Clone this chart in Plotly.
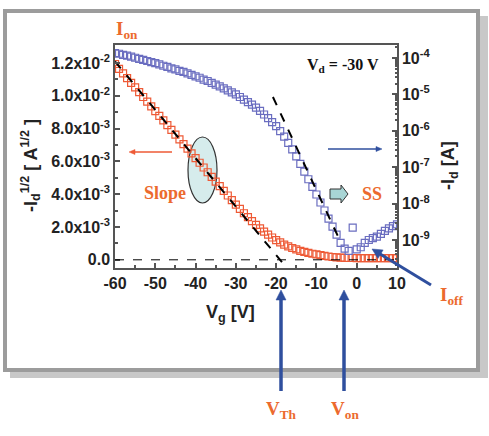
import math
import plotly.graph_objects as go

# ---------------- data ----------------
vg = [-60, -59, -58, -57, -56, -55, -54, -53, -52, -51, -50, -49, -48, -47, -46, -45,
      -44, -43, -42, -41, -40, -39, -38, -37, -36, -35, -34, -33, -32, -31, -30, -29,
      -28, -27, -26, -25, -24, -23, -22, -21, -20, -19, -18, -17, -16, -15, -14, -13,
      -12, -11, -10, -9, -8, -7, -6, -5, -4, -3, -2, -1, 0, 1, 2, 3, 4, 5, 6, 7, 8, 9, 10]

# sqrt(-Id) in units of 1e-3 A^1/2
sqrt_id_milli = [11.94, 11.65, 11.37, 11.08, 10.79, 10.51, 10.22, 9.93, 9.65, 9.36,
                 9.07, 8.78, 8.50, 8.21, 7.92, 7.64, 7.35, 7.06, 6.78, 6.49,
                 6.20, 5.92, 5.63, 5.34, 5.06, 4.77, 4.49, 4.20, 3.92, 3.64,
                 3.37, 3.10, 2.84, 2.60, 2.36, 2.13, 1.92, 1.72, 1.53, 1.36,
                 1.20, 1.06, 0.93, 0.82, 0.72, 0.63, 0.55, 0.48, 0.42, 0.37,
                 0.33, 0.29, 0.24, 0.20, 0.17, 0.15, 0.13, 0.12, 0.11, 0.11,
                 0.10, 0.10, 0.10, 0.10, 0.10, 0.10, 0.10, 0.10, 0.10, 0.10, 0.10]

# log10(-Id / A)
id_log10 = [-3.86, -3.88, -3.91, -3.93, -3.96, -3.99, -4.02, -4.05, -4.08, -4.11,
            -4.14, -4.17, -4.21, -4.24, -4.28, -4.31, -4.35, -4.38, -4.42, -4.46,
            -4.50, -4.54, -4.59, -4.63, -4.68, -4.73, -4.78, -4.83, -4.89, -4.94,
            -5.00, -5.07, -5.14, -5.21, -5.28, -5.36, -5.45, -5.55, -5.65, -5.76,
            -5.87, -6.01, -6.16, -6.33, -6.51, -6.70, -6.91, -7.12, -7.33, -7.54,
            -7.75, -7.97, -8.19, -8.41, -8.63, -8.85, -9.08, -9.24, -9.30, -8.66,
            -9.26, -9.20, -9.08, -9.00, -8.95, -8.91, -8.83, -8.75, -8.68, -8.62, -8.57]

# linear fit (threshold) and subthreshold-swing tangent
fit_vg = [-60, -18]
fit_sqrt_milli = [12.10, -0.30]
ss_vg = [-20.8, -3.8]
ss_log10 = [-5.07, -9.10]

x_ticks = [-60, -50, -40, -30, -20, -10, 0, 10]
x_ticktext = ["-60", "-50", "-40", "-30", "-20", "-10", "0", "10"]
y_ticks_milli = [0, 2, 4, 6, 8, 10, 12]
y_ticktext = ["0.0", "2.0x10<sup>-3</sup>", "4.0x10<sup>-3</sup>", "6.0x10<sup>-3</sup>",
              "8.0x10<sup>-3</sup>", "1.0x10<sup>-2</sup>", "1.2x10<sup>-2</sup>"]
y2_exps = [-9, -8, -7, -6, -5, -4]

# ---------------- styling ----------------
RED = "#EE5A36"
BLUE = "#6A6DC0"
ORANGE = "#EC6A2E"
ARROWBLUE = "#2F4F9E"
AXC = "#555555"
SANS = "Liberation Sans"
SERIF = "Liberation Serif"

L, R, T, B = 115, 397, 45, 268
W, H = 489, 436


def px(x):
    return (x - L) / (R - L)


def py(y):
    return (B - y) / (B - T)


fig = go.Figure()

fig.add_trace(go.Scatter(
    x=vg, y=[v * 1e-3 for v in sqrt_id_milli], mode="markers",
    marker=dict(symbol="square-open", size=7, color=RED, line=dict(width=1.2)),
    yaxis="y", hoverinfo="skip"))
fig.add_trace(go.Scatter(
    x=fit_vg, y=[v * 1e-3 for v in fit_sqrt_milli], mode="lines",
    line=dict(color="black", width=2, dash="dash"), yaxis="y", hoverinfo="skip"))
fig.add_trace(go.Scatter(
    x=vg, y=[10 ** v for v in id_log10], mode="markers",
    marker=dict(symbol="square-open", size=7, color=BLUE, line=dict(width=1.2)),
    yaxis="y2", hoverinfo="skip"))
fig.add_trace(go.Scatter(
    x=ss_vg, y=[10 ** v for v in ss_log10], mode="lines",
    line=dict(color="black", width=2, dash="dash"), yaxis="y2", hoverinfo="skip"))

tickfont = dict(family=SANS, size=16, color="#222222", weight="bold")

minor_y2 = [k * 10 ** e for e in range(-10, -3) for k in range(2, 10)]

fig.update_layout(
    width=W, height=H,
    margin=dict(l=L, r=W - R, t=T, b=H - B),
    paper_bgcolor="white", plot_bgcolor="rgba(0,0,0,0)",
    showlegend=False,
    xaxis=dict(range=[-60, 10], tickvals=x_ticks, ticktext=x_ticktext, ticks="inside",
               ticklen=5, tickwidth=1.5,
               tickcolor=AXC, showline=True, linecolor=AXC, linewidth=1.5, mirror=True,
               showgrid=False, zeroline=False, tickfont=tickfont,
               minor=dict(tickvals=[-55, -45, -35, -25, -15, -5, 5], ticks="inside",
                          ticklen=3, tickcolor=AXC, showgrid=False)),
    yaxis=dict(range=[-0.0005, 0.0131], tickvals=[v * 1e-3 for v in y_ticks_milli],
               ticktext=y_ticktext, ticks="inside", ticklen=5, tickwidth=1.5, tickcolor=AXC,
               showline=True, linecolor=AXC, linewidth=1.5, showgrid=False, zeroline=False,
               tickfont=tickfont,
               minor=dict(tickvals=[v * 1e-3 for v in [1, 3, 5, 7, 9, 11]], ticks="inside",
                          ticklen=3, tickcolor=AXC, showgrid=False)),
    yaxis2=dict(type="log", range=[-9.77, -3.64], overlaying="y", side="right",
                tickvals=[10 ** e for e in y2_exps],
                ticktext=["10<sup>%d</sup>" % e for e in y2_exps],
                ticks="inside", ticklen=5, tickwidth=1.5, tickcolor=AXC,
                showline=True, linecolor=AXC, linewidth=1.5, showgrid=False, zeroline=False,
                tickfont=tickfont,
                minor=dict(tickvals=minor_y2, ticks="inside", ticklen=2.5, tickcolor=AXC,
                           showgrid=False)),
)

shapes = []
# outer frame with shadow
shapes.append(dict(type="rect", xref="paper", yref="paper", layer="below",
                   x0=px(10), x1=px(488), y0=py(16), y1=py(378),
                   fillcolor="#C8C8C8", line=dict(width=0)))
shapes.append(dict(type="rect", xref="paper", yref="paper", layer="below",
                   x0=px(5), x1=px(478), y0=py(11), y1=py(370),
                   fillcolor="white", line=dict(color="#9C9C9C", width=4)))
# ellipse highlighting slope
shapes.append(dict(type="circle", xref="paper", yref="paper", layer="below",
                   x0=px(188), x1=px(217), y0=py(137), y1=py(203),
                   fillcolor="#D6ECEC", line=dict(color="#333333", width=1.2)))
# zero line
shapes.append(dict(type="line", xref="paper", yref="y", x0=0, x1=1, y0=0, y1=0,
                   line=dict(color="black", width=1, dash="dash")))
# block arrow (SS)
bx0, bx1, bx2 = 330, 341, 348
by0, by1, bym, by2, by3 = 185, 189, 194, 199, 203
path = "M {} {} L {} {} L {} {} L {} {} L {} {} L {} {} L {} {} Z".format(
    px(bx0), py(by1), px(bx1), py(by1), px(bx1), py(by0), px(bx2), py(bym),
    px(bx1), py(by3), px(bx1), py(by2), px(bx0), py(by2))
shapes.append(dict(type="path", xref="paper", yref="paper", path=path,
                   fillcolor="#A8D5D5", line=dict(color="#333333", width=1)))


def arrow(x_head, y_head, x_tail, y_tail, color, width, head_len, head_half):
    dx, dy = x_head - x_tail, y_head - y_tail
    d = math.hypot(dx, dy)
    ux, uy = dx / d, dy / d
    bx, by = x_head - ux * head_len, y_head - uy * head_len
    shapes.append(dict(type="line", xref="paper", yref="paper",
                       x0=px(x_tail), y0=py(y_tail), x1=px(bx + ux * 1), y1=py(by + uy * 1),
                       line=dict(color=color, width=width)))
    p1 = (bx - uy * head_half, by + ux * head_half)
    p2 = (bx + uy * head_half, by - ux * head_half)
    pth = "M {} {} L {} {} L {} {} Z".format(px(x_head), py(y_head), px(p1[0]), py(p1[1]),
                                             px(p2[0]), py(p2[1]))
    shapes.append(dict(type="path", xref="paper", yref="paper", path=pth,
                       fillcolor=color, line=dict(color=color, width=0.5)))


arrow(129, 152, 172, 152, RED, 1.5, 6, 2.5)
arrow(382, 149, 328, 149, ARROWBLUE, 1.5, 6, 2.5)
arrow(372, 249, 431, 285, ARROWBLUE, 3, 10, 5)
arrow(281, 290, 281, 391, ARROWBLUE, 3.5, 10, 5)
arrow(344, 290, 344, 391, ARROWBLUE, 3.5, 10, 5)

fig.update_layout(shapes=shapes)

ann = []


def text(x, y, t, size, color, family=SERIF, weight="bold", angle=0, xanchor="center"):
    ann.append(dict(xref="paper", yref="paper", x=px(x), y=py(y), text=t, showarrow=False,
                    xanchor=xanchor, yanchor="middle", textangle=angle,
                    font=dict(family=family, size=size, color=color, weight=weight)))


text(127, 30, "I<sub>on</sub>", 19, ORANGE)
text(343, 65, "V<sub>d</sub> = -30 V", 16, "#111111")
text(165, 193, "Slope", 18, ORANGE)
text(372, 194, "SS", 18, ORANGE)
text(452, 296, "I<sub>off</sub>", 19, ORANGE)
text(281, 410, "V<sub>Th</sub>", 19, ORANGE)
text(345, 410, "V<sub>on</sub>", 19, ORANGE)

text(230, 313, "V<sub>g</sub> [V]", 18, "#222222", family=SANS)
text(30, 166, "-I<sub>d</sub><sup>1/2</sup> [ A<sup>1/2</sup> ]", 18, "#222222",
     family=SANS, angle=-90)
text(449, 166, "-I<sub>d</sub> [A]", 18, "#222222", family=SANS, angle=-90)

fig.update_layout(annotations=ann)

fig.write_html("out.html")
